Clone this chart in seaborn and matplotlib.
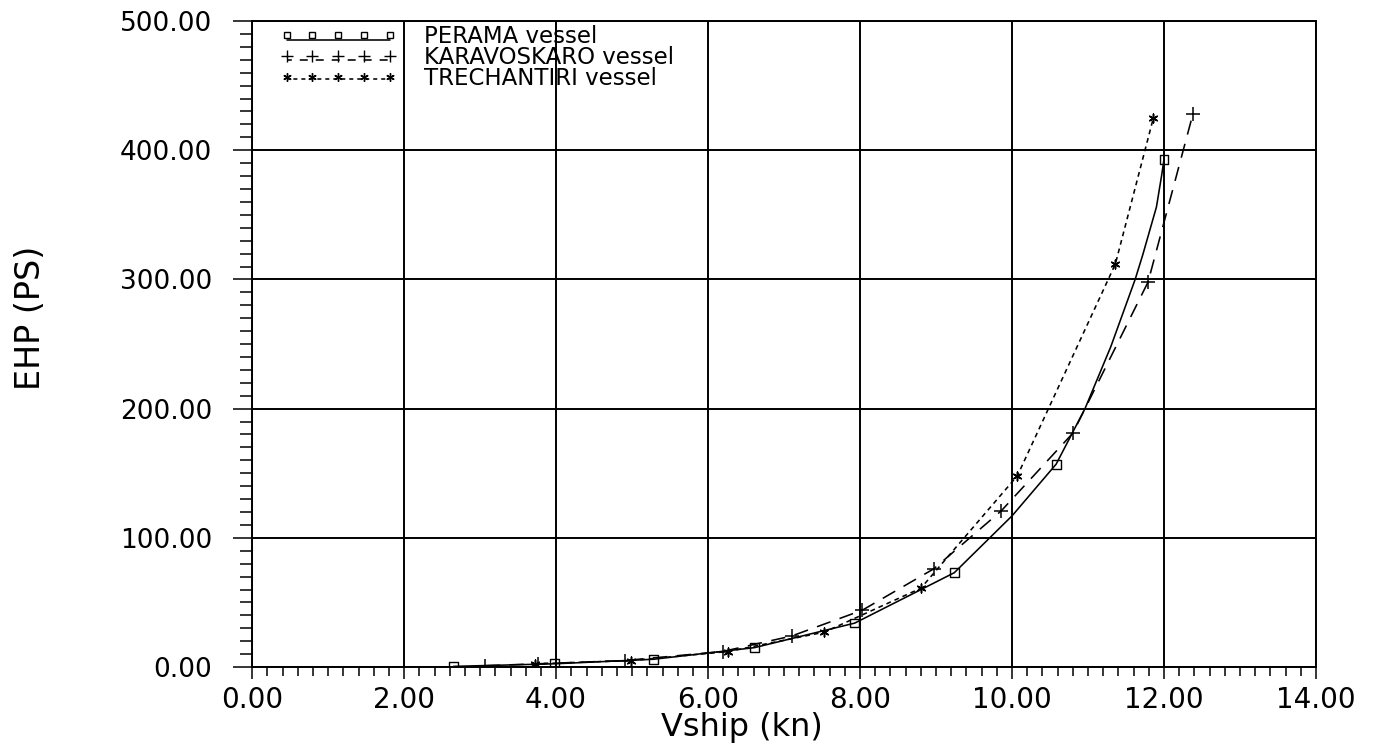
import numpy as np
import seaborn as sns
import matplotlib.pyplot as plt
from matplotlib.lines import Line2D
from matplotlib.legend_handler import HandlerLine2D, HandlerTuple
from matplotlib.ticker import MultipleLocator, FormatStrFormatter

# values
perama_v = [2.65, 3.98, 5.28, 6.61, 7.93, 9.24, 10.58, 12.00]
perama_ehp = [0.5, 2.5, 6, 15, 34, 73, 157, 393]
# extra points along the solid curve (no markers there)
perama_curve_v = [2.65, 3.98, 5.28, 6.61, 7.93, 9.24, 10.00, 10.58, 10.96, 11.30,
                  11.62, 11.72, 11.90, 11.97, 12.00]
perama_curve_ehp = [0.5, 2.5, 6, 15, 34, 73, 117, 157, 200, 248,
                    300, 319, 356, 381, 393]

karav_v = [3.07, 3.76, 4.90, 6.19, 7.10, 8.03, 8.97, 9.86, 10.80, 11.79, 12.38]
karav_ehp = [1, 2.5, 5, 12, 24, 44, 76, 121, 181, 298, 428]

trech_v = [3.72, 4.99, 6.26, 7.53, 8.80, 10.07, 11.36, 11.86]
trech_ehp = [2.5, 5, 12, 27, 61, 148, 312, 425]

labels = ["PERAMA vessel", "KARAVOSKARO vessel", "TRECHANTIRI vessel"]


class ShiftedLine(HandlerLine2D):
    # legend sample line drawn a little below its markers, like the old plotter
    def __init__(self, dy, **kw):
        super().__init__(**kw)
        self.dy = dy

    def create_artists(self, legend, orig_handle, xdescent, ydescent, width,
                       height, fontsize, trans):
        artists = super().create_artists(legend, orig_handle, xdescent, ydescent,
                                         width, height, fontsize, trans)
        for a in artists:
            a.set_ydata(np.asarray(a.get_ydata()) + self.dy)
        return artists


sns.set_style("ticks")
plt.rcParams['font.family'] = ['DejaVu Sans']
plt.rcParams['text.color'] = 'black'
plt.rcParams['axes.labelcolor'] = 'black'
plt.rcParams['xtick.color'] = 'black'
plt.rcParams['ytick.color'] = 'black'

fig = plt.figure(figsize=(13.78, 7.52), dpi=100)
ax = fig.add_axes([0.183, 0.113, 0.772, 0.859])

lw = 1.15
sns.lineplot(x=perama_curve_v, y=perama_curve_ehp, ax=ax, color='black', lw=lw,
             sort=False, estimator=None)
sns.lineplot(x=karav_v, y=karav_ehp, ax=ax, color='black', lw=lw,
             sort=False, estimator=None, dashes=False, linestyle=(0, (9, 6)))
sns.lineplot(x=trech_v, y=trech_ehp, ax=ax, color='black', lw=lw,
             sort=False, estimator=None, dashes=False, linestyle=(0, (3, 2.5)))

sns.scatterplot(x=perama_v, y=perama_ehp, ax=ax, marker='s', s=40, color='black',
                facecolor='none', edgecolor='black', linewidth=1, zorder=3)
sns.scatterplot(x=karav_v, y=karav_ehp, ax=ax, marker='+', s=90, color='black',
                linewidth=1.1, zorder=3)
sns.scatterplot(x=trech_v, y=trech_ehp, ax=ax, marker=(6, 2, 0), s=40, color='black',
                linewidth=1.1, zorder=3)

ax.set_xlim(0, 14)
ax.set_ylim(0, 500)
ax.xaxis.set_major_locator(MultipleLocator(2))
ax.xaxis.set_minor_locator(MultipleLocator(0.2))
ax.yaxis.set_major_locator(MultipleLocator(100))
ax.yaxis.set_minor_locator(MultipleLocator(10))
ax.xaxis.set_major_formatter(FormatStrFormatter('%.2f'))
ax.yaxis.set_major_formatter(FormatStrFormatter('%.2f'))

ax.grid(True, which='major', color='black', lw=1.4)
for s in ax.spines.values():
    s.set_visible(True)
    s.set_color('black')
    s.set_linewidth(1.4)

ax.tick_params(axis='both', which='both', direction='out', color='black', width=1.1)
ax.tick_params(axis='y', which='major', length=14, pad=15, labelsize=19)
ax.tick_params(axis='y', which='minor', length=9)
ax.tick_params(axis='x', which='major', length=8.5, pad=5, labelsize=20)
ax.tick_params(axis='x', which='minor', length=6.5)

ax.set_xlabel("Vship (kn)", fontsize=23)
ax.xaxis.set_label_coords(0.46, -0.07)
ax.set_ylabel("EHP (PS)", fontsize=24)
ax.yaxis.set_label_coords(-0.193, 0.54)

# legend samples: markers on top, the line style just under them
mk_p = Line2D([], [], color='black', ls='none', marker='s', mfc='none', ms=5)
ln_p = Line2D([], [], color='black', lw=lw, ls='-')
mk_k = Line2D([], [], color='black', ls='none', marker='+', ms=8)
ln_k = Line2D([], [], color='black', lw=lw, ls=(2, (5, 5)))
mk_t = Line2D([], [], color='black', ls='none', marker=(6, 2, 0), ms=6)
ln_t = Line2D([], [], color='black', lw=lw, ls=(1, (2.5, 2.5)))
hmap = {ln_p: ShiftedLine(-4), ln_k: ShiftedLine(-3), ln_t: ShiftedLine(-1.5),
        tuple: HandlerTuple(ndivide=1)}
ax.legend([(mk_p, ln_p), (mk_k, ln_k), (mk_t, ln_t)], labels, handler_map=hmap,
          loc='upper left', bbox_to_anchor=(0.026, 0.994),
          frameon=False, numpoints=5, handlelength=5.1, handletextpad=1.2,
          fontsize=16.5, labelspacing=-0.08, borderpad=0, borderaxespad=0)

fig.savefig("out.png", dpi=100)
